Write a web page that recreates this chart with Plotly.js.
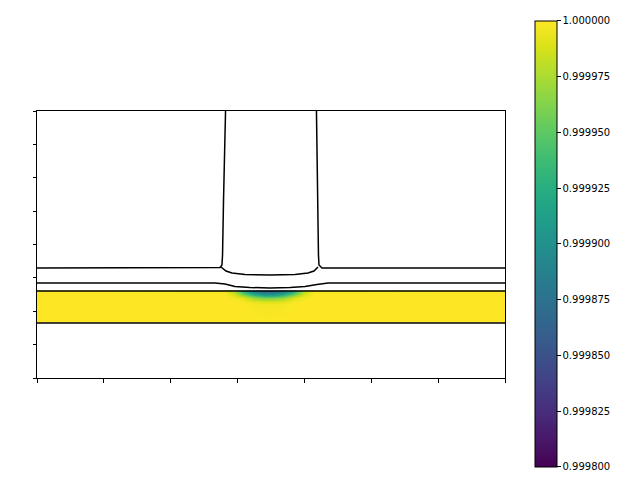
<!DOCTYPE html>
<html>
<head>
<meta charset="utf-8">
<script src="https://cdn.plot.ly/plotly-3.0.1.min.js"></script>
<style>html,body{margin:0;padding:0;background:#fff;}#chart{width:640px;height:480px;}</style>
</head>
<body>
<div id="chart"></div>
<script>
// Field sampled in the yellow layer (cell centres)
const xCells = [0, 2.8, 2.95, 3.1, 3.25, 3.4, 3.55, 3.7, 3.85, 4.0, 4.15, 7];
const yCells = [1.665, 1.70, 2.2, 2.3, 2.4, 2.49, 2.575];
const zRow0 = [1, 1, 1, 1, 1, 1, 1, 1, 1, 1, 1, 1];
const zRow1 = [1, 1, 1, 1, 1, 1, 1, 1, 1, 1, 1, 1];
const zRow2 = [1, 1, 1, 1, 0.999998, 0.999997, 0.999997, 0.999998, 1, 1, 1, 1];
const zRow3 = [1, 1, 1, 0.999998, 0.999993, 0.99999, 0.99999, 0.999993, 0.999998, 1, 1, 1];
const zRow4 = [1, 1, 0.999998, 0.99999, 0.99997, 0.99996, 0.99996, 0.99997, 0.99999, 0.999998, 1, 1];
const zRow5 = [1, 1, 0.99999, 0.99996, 0.99993, 0.99991, 0.99991, 0.99993, 0.99996, 0.99999, 1, 1];
const zRow6 = [1, 0.999998, 0.99998, 0.99993, 0.99989, 0.999872, 0.999872, 0.99989, 0.99993, 0.99998, 0.999998, 1];

// Contour lines
const upperLeftX = [0, 2.66, 2.737, 2.767, 2.775, 2.79, 2.82];
const upperLeftY = [3.296, 3.296, 3.31, 3.386, 3.685, 5.33, 8];
const upperRightX = [4.18, 4.195, 4.21, 4.218, 4.263, 7];
const upperRightY = [8, 5.33, 3.685, 3.386, 3.296, 3.296];
const bowlX = [2.752, 2.827, 2.917, 3.111, 3.485, 3.859, 4.053, 4.143, 4.203];
const bowlY = [3.326, 3.206, 3.146, 3.101, 3.086, 3.101, 3.146, 3.206, 3.326];
const midX = [0, 2.662, 2.812, 2.961, 3.186, 3.485, 3.784, 4.008, 4.188, 4.353, 7];
const midY = [2.846, 2.846, 2.817, 2.742, 2.712, 2.697, 2.712, 2.742, 2.802, 2.846, 2.846];
const bandTopX = [0, 7];
const bandTopY = [2.607, 2.607];
const bandBottomX = [0, 7];
const bandBottomY = [1.648, 1.648];

// Colour bar ticks
const cbTickVals = [0.9998, 0.999825, 0.99985, 0.999875, 0.9999, 0.999925, 0.99995, 0.999975, 1.0];
const cbTickText = ['0.999800', '0.999825', '0.999850', '0.999875', '0.999900', '0.999925', '0.999950', '0.999975', '1.000000'];

const zGrid = [zRow0, zRow1, zRow2, zRow3, zRow4, zRow5, zRow6];

function lineTrace(x, y) {
  return {type: 'scatter', mode: 'lines', x: x, y: y, hoverinfo: 'skip', showlegend: false,
          line: {color: '#000000', width: 1.5}};
}

const traces = [
  {
    type: 'heatmap', x: xCells, y: yCells, z: zGrid, zsmooth: 'best',
    colorscale: 'Viridis', zmin: 0.9998, zmax: 1.0,
    colorbar: {
      x: 1.0641, xanchor: 'left', xpad: 0, y: 0.5019, yanchor: 'middle', ypad: 0,
      thickness: 22, thicknessmode: 'pixels', len: 446, lenmode: 'pixels',
      outlinewidth: 1, outlinecolor: '#000000',
      ticks: 'outside', ticklen: 3.5, tickwidth: 1, tickcolor: '#000000',
      tickmode: 'array', tickvals: cbTickVals, ticktext: cbTickText,
      tickfont: {family: 'DejaVu Sans', size: 10, color: '#000000'}
    }
  },
  lineTrace(upperLeftX, upperLeftY),
  lineTrace(upperRightX, upperRightY),
  lineTrace(bowlX, bowlY),
  lineTrace(midX, midY),
  lineTrace(bandTopX, bandTopY),
  lineTrace(bandBottomX, bandBottomY)
];

const layout = {
  width: 640, height: 480,
  margin: {l: 37, r: 135, t: 111, b: 102, pad: 0},
  paper_bgcolor: '#ffffff', plot_bgcolor: '#ffffff',
  showlegend: false,
  xaxis: {range: [0, 7], dtick: 1, tick0: 0, showticklabels: false, ticks: 'outside', ticklen: 3.5,
          tickcolor: '#000000', showgrid: false, zeroline: false, showline: true, linecolor: '#000000',
          linewidth: 1, mirror: true},
  yaxis: {range: [0, 8], dtick: 1, tick0: 0, showticklabels: false, ticks: 'outside', ticklen: 3.5,
          tickcolor: '#000000', showgrid: false, zeroline: false, showline: true, linecolor: '#000000',
          linewidth: 1, mirror: true},
  font: {family: 'DejaVu Sans', size: 10, color: '#000000'}
};

Plotly.newPlot('chart', traces, layout, {staticPlot: true, displayModeBar: false});
</script>
</body>
</html>
